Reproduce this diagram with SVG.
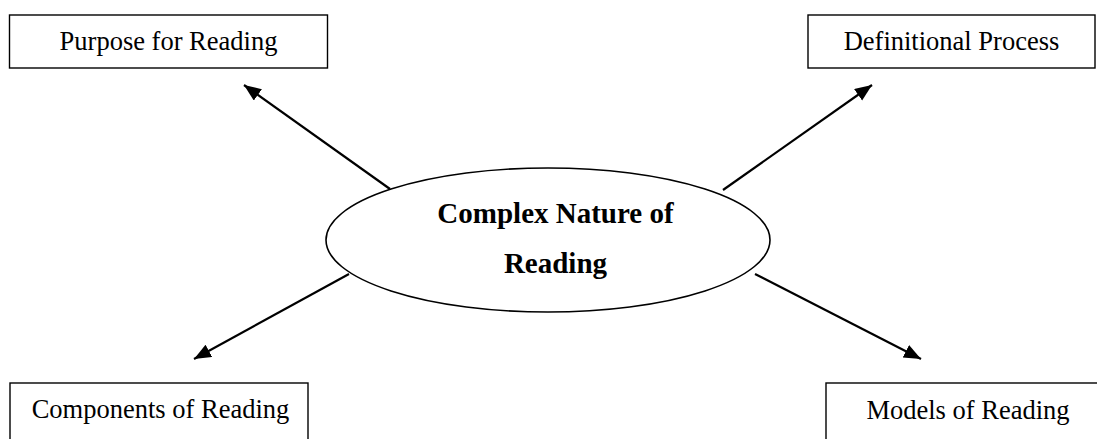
<svg xmlns="http://www.w3.org/2000/svg" width="1097" height="439" viewBox="0 0 1097 439">
  <style>
    .box { fill: #ffffff; stroke: #000000; stroke-width: 1.4; }
    .label { font-family: "Liberation Serif", "Times New Roman", serif; font-size: 26.5px; fill: #000000; text-anchor: middle; }
    .title { font-family: "Liberation Serif", "Times New Roman", serif; font-size: 29px; font-weight: bold; fill: #000000; text-anchor: middle; }
    .link { stroke: #000000; stroke-width: 2.2; fill: none; marker-end: url(#head); }
  </style>
  <defs>
    <marker id="head" markerUnits="userSpaceOnUse" markerWidth="18" markerHeight="15" refX="17" refY="7" orient="auto">
      <path d="M0,0 L17,7 L0,14 z" fill="#000000"/>
    </marker>
  </defs>

  <rect width="1097" height="439" fill="#ffffff"/>

  <!-- connectors from the central topic out to each aspect -->
  <g id="connectors">
    <line class="link" x1="390" y1="189" x2="244" y2="85"/>
    <line class="link" x1="723" y1="190" x2="872" y2="85"/>
    <line class="link" x1="349" y1="274" x2="194" y2="359"/>
    <line class="link" x1="755" y1="274" x2="921" y2="359"/>
  </g>

  <g id="center">
    <ellipse cx="548" cy="240" rx="222" ry="72" fill="#ffffff" stroke="#000000" stroke-width="1.6"/>
    <text class="title" x="555.5" y="223">Complex Nature of</text>
    <text class="title" x="555.5" y="273">Reading</text>
  </g>

  <g id="purpose">
    <rect class="box" x="9.5" y="15" width="318" height="53"/>
    <text class="label" x="168.5" y="50">Purpose for Reading</text>
  </g>

  <g id="definitional">
    <rect class="box" x="808" y="15" width="287" height="53"/>
    <text class="label" x="951.5" y="50">Definitional Process</text>
  </g>

  <g id="components">
    <rect class="box" x="10" y="383" width="298" height="80"/>
    <text class="label" x="160.5" y="418">Components of Reading</text>
  </g>

  <g id="models">
    <rect class="box" x="826" y="383" width="290" height="80"/>
    <text class="label" x="968" y="419">Models of Reading</text>
  </g>
</svg>
